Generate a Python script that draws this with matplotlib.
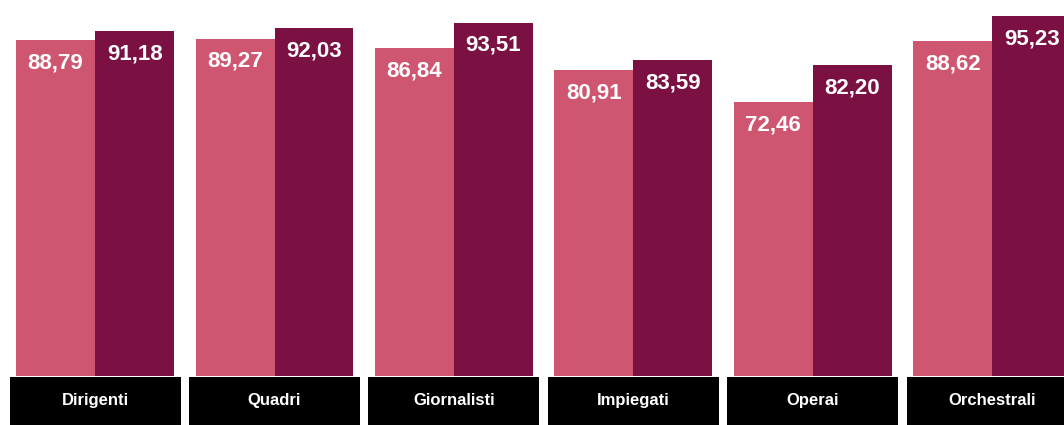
import matplotlib.pyplot as plt
import numpy as np

# data
categories = ['Dirigenti', 'Quadri', 'Giornalisti', 'Impiegati', 'Operai', 'Orchestrali']
values_a = [88.79, 89.27, 86.84, 80.91, 72.46, 88.62]
values_b = [91.18, 92.03, 93.51, 83.59, 82.20, 95.23]

color_a = '#CF5670'
color_b = '#7B1142'

plt.rcParams['font.family'] = ['Liberation Sans', 'DejaVu Sans']

fig = plt.figure(figsize=(10.64, 4.25), dpi=100)
ax = fig.add_axes([0, 0, 1, 1])

x = np.arange(len(categories))
width = 0.44

bars_a = ax.bar(x - width / 2, values_a, width, color=color_a)
bars_b = ax.bar(x + width / 2, values_b, width, color=color_b)

# value labels inside the top of each bar
def fmt(v):
    return f'{v:.2f}'.replace('.', ',')

for bars, vals in ((bars_a, values_a), (bars_b, values_b)):
    for b, v in zip(bars, vals):
        ax.annotate(fmt(v), (b.get_x() + b.get_width() / 2, v),
                    xytext=(0, -16.5), textcoords='offset points',
                    ha='center', va='center', color='white',
                    fontsize=16, fontweight='bold')

# black category boxes under the bars
box_bottom = -12.96
box_top = -0.15
ax.bar(x, [box_top - box_bottom] * len(x), 0.953, bottom=box_bottom, color='black')
for xi, cat in zip(x, categories):
    ax.text(xi, (box_top + box_bottom) / 2, cat, ha='center', va='center',
            color='white', fontsize=12, fontweight='bold')

ax.set_xlim(-0.53, 5.40)
ax.set_ylim(box_bottom, 99.47)
ax.axis('off')

fig.savefig('out.png', dpi=100)
